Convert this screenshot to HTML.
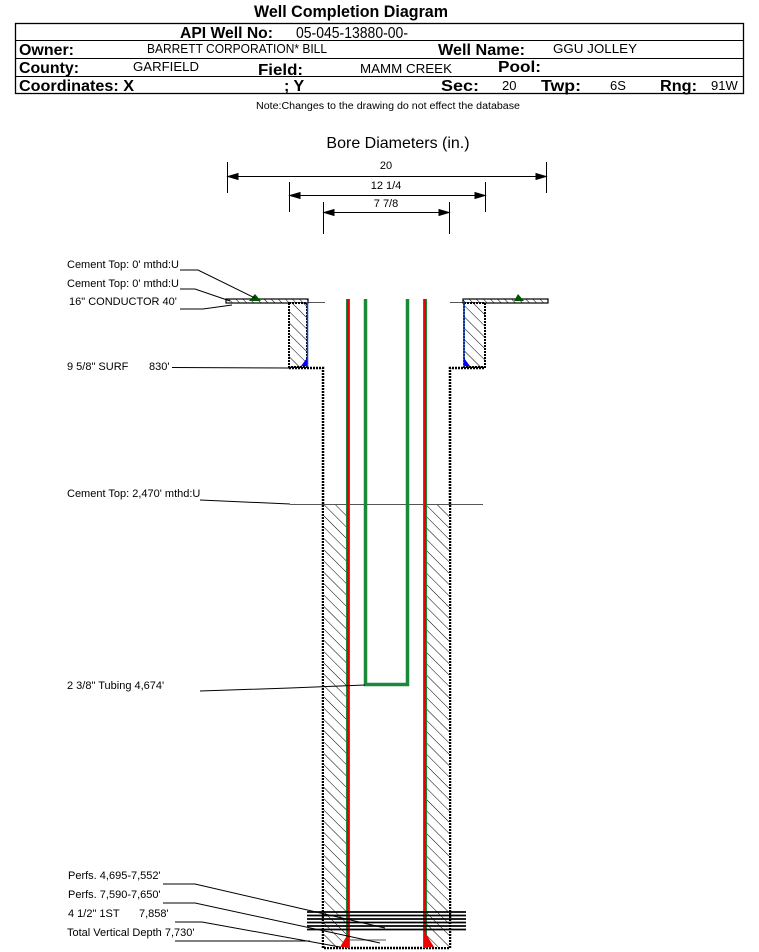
<!DOCTYPE html>
<html><head><meta charset="utf-8"><style>
body{margin:0;background:#fff;}
svg{display:block;font-family:"Liberation Sans",Arial,sans-serif;}
</style></head><body>
<svg width="759" height="952" viewBox="0 0 759 952" xmlns="http://www.w3.org/2000/svg">
<defs>
<pattern id="h" width="8" height="8" patternUnits="userSpaceOnUse" patternTransform="rotate(-45)">
<rect width="8" height="8" fill="#fff"/><line x1="0" y1="0" x2="0" y2="8" stroke="#000" stroke-width="1"/>
</pattern>
<pattern id="hs" width="5" height="5" patternUnits="userSpaceOnUse" patternTransform="rotate(-45)">
<rect width="5" height="5" fill="#fff"/><line x1="0" y1="0" x2="0" y2="5" stroke="#000" stroke-width="1"/>
</pattern>
</defs>
<!-- Header -->
<text x="254" y="17" font-size="17" font-weight="bold" textLength="194" lengthAdjust="spacingAndGlyphs">Well Completion Diagram</text>
<rect x="15.5" y="23.5" width="728" height="70" fill="none" stroke="#000" stroke-width="1.3"/>
<line x1="15" y1="40.5" x2="744" y2="40.5" stroke="#000"/>
<line x1="15" y1="58.5" x2="744" y2="58.5" stroke="#000"/>
<line x1="15" y1="76.5" x2="744" y2="76.5" stroke="#000"/>
<text x="180" y="38" font-size="16" font-weight="bold" textLength="93" lengthAdjust="spacingAndGlyphs">API Well No:</text>
<text x="296" y="38" font-size="16" textLength="112" lengthAdjust="spacingAndGlyphs">05-045-13880-00-</text>
<text x="19" y="55" font-size="16" font-weight="bold" textLength="55" lengthAdjust="spacingAndGlyphs">Owner:</text>
<text x="147" y="53" font-size="13" textLength="180" lengthAdjust="spacingAndGlyphs">BARRETT CORPORATION* BILL</text>
<text x="438" y="55" font-size="16" font-weight="bold" textLength="87" lengthAdjust="spacingAndGlyphs">Well Name:</text>
<text x="553" y="53" font-size="13" textLength="84" lengthAdjust="spacingAndGlyphs">GGU JOLLEY</text>
<text x="19" y="73" font-size="16" font-weight="bold" textLength="60" lengthAdjust="spacingAndGlyphs">County:</text>
<text x="133" y="71" font-size="13" textLength="66" lengthAdjust="spacingAndGlyphs">GARFIELD</text>
<text x="258" y="75" font-size="16" font-weight="bold" textLength="45" lengthAdjust="spacingAndGlyphs">Field:</text>
<text x="360" y="73" font-size="13" textLength="92" lengthAdjust="spacingAndGlyphs">MAMM CREEK</text>
<text x="498" y="72" font-size="16" font-weight="bold" textLength="43" lengthAdjust="spacingAndGlyphs">Pool:</text>
<text x="19" y="91" font-size="16" font-weight="bold" textLength="115" lengthAdjust="spacingAndGlyphs">Coordinates: X</text>
<text x="284" y="91" font-size="16" font-weight="bold">; Y</text>
<text x="441" y="91" font-size="16" font-weight="bold" textLength="38" lengthAdjust="spacingAndGlyphs">Sec:</text>
<text x="502" y="90" font-size="13">20</text>
<text x="541" y="91" font-size="16" font-weight="bold" textLength="40" lengthAdjust="spacingAndGlyphs">Twp:</text>
<text x="610" y="90" font-size="13">6S</text>
<text x="660" y="91" font-size="16" font-weight="bold" textLength="37" lengthAdjust="spacingAndGlyphs">Rng:</text>
<text x="711" y="90" font-size="13">91W</text>
<text x="256" y="109" font-size="10" textLength="264" lengthAdjust="spacingAndGlyphs">Note:Changes to the drawing do not effect the database</text>

<!-- Bore diameters -->
<text x="398" y="148" font-size="16" text-anchor="middle">Bore Diameters (in.)</text>
<g stroke="#000" stroke-width="1" fill="#000">
<line x1="227.5" y1="162" x2="227.5" y2="193"/><line x1="546.5" y1="162" x2="546.5" y2="193"/>
<line x1="228" y1="176.5" x2="546" y2="176.5"/>
<polygon points="228,176.5 238,173.5 238,179.5"/><polygon points="546,176.5 536,173.5 536,179.5"/>
<line x1="289.5" y1="182" x2="289.5" y2="212"/><line x1="485.5" y1="182" x2="485.5" y2="212"/>
<line x1="290" y1="195.5" x2="485" y2="195.5"/>
<polygon points="290,195.5 300,192.5 300,198.5"/><polygon points="485,195.5 475,192.5 475,198.5"/>
<line x1="323.5" y1="202" x2="323.5" y2="234"/><line x1="449.5" y1="202" x2="449.5" y2="234"/>
<line x1="324" y1="212.5" x2="449" y2="212.5"/>
<polygon points="324,212.5 334,209.5 334,215.5"/><polygon points="449,212.5 439,209.5 439,215.5"/>
</g>
<text x="386" y="169" font-size="11" text-anchor="middle">20</text>
<text x="386" y="189" font-size="11" text-anchor="middle">12 1/4</text>
<text x="386" y="207" font-size="11" text-anchor="middle">7 7/8</text>

<!-- surface lines -->
<line x1="226" y1="302.5" x2="325" y2="302.5" stroke="#555"/>
<line x1="450" y1="302.5" x2="548" y2="302.5" stroke="#555"/>

<!-- conductor flanges -->
<rect x="226" y="299" width="82" height="4" fill="url(#hs)" stroke="#000" stroke-width="1.2"/>
<rect x="463" y="299" width="85" height="4" fill="url(#hs)" stroke="#000" stroke-width="1.2"/>
<polygon points="249,301 255,294 261,301" fill="#050"/>
<polygon points="514,301 518,294 524,301" fill="#050"/>

<!-- conductor cement -->
<rect x="289" y="303" width="18" height="64" fill="url(#h)" stroke="#000" stroke-width="2" stroke-dasharray="2,1"/>
<rect x="464" y="303" width="21" height="64" fill="url(#h)" stroke="#000" stroke-width="2" stroke-dasharray="2,1"/>
<line x1="307.5" y1="302" x2="307.5" y2="367" stroke="#1040c0" stroke-width="1.5"/>
<line x1="464" y1="302" x2="464" y2="367" stroke="#1040c0" stroke-width="1.5"/>
<polygon points="301,366 307,358 307,366" fill="#00f"/>
<polygon points="464,358 470,366 464,366" fill="#00f"/>

<!-- surface casing hole walls -->
<path d="M289,368 H323 V948 H450 V368 H485" fill="none" stroke="#000" stroke-width="2.5" stroke-dasharray="2,1"/>

<!-- lower cement -->
<rect x="324" y="504" width="23" height="443" fill="url(#h)"/>
<rect x="426" y="504" width="23" height="443" fill="url(#h)"/>
<line x1="200" y1="500" x2="290" y2="504" stroke="#000"/>
<line x1="290" y1="504.5" x2="483" y2="504.5" stroke="#555"/>

<!-- production casing -->
<rect x="346" y="299" width="4" height="649" fill="#1a8a3a"/>
<rect x="347" y="299" width="2" height="649" fill="#e00"/>
<rect x="423" y="299" width="4" height="649" fill="#1a8a3a"/>
<rect x="424" y="299" width="2" height="649" fill="#e00"/>
<polygon points="340,947 348,934 349,947" fill="#e00"/>
<polygon points="426,934 434,947 426,947" fill="#e00"/>

<!-- tubing -->
<path d="M365.5,299 V684.5 H407.5 V299" fill="none" stroke="#1a8a3a" stroke-width="3.5"/>

<!-- perfs -->
<g stroke="#000" stroke-width="1.8">
<line x1="307" y1="912" x2="466" y2="912"/>
<line x1="307" y1="915.5" x2="466" y2="915.5"/>
<line x1="307" y1="919" x2="466" y2="919"/>
<line x1="307" y1="922.5" x2="466" y2="922.5"/>
<line x1="307" y1="926" x2="466" y2="926"/>
<line x1="307" y1="929.5" x2="466" y2="929.5"/>
</g>
<line x1="350" y1="940" x2="386" y2="940" stroke="#777" stroke-width="1.2"/>

<!-- labels -->
<g font-size="11">
<text x="67" y="268">Cement Top: 0' mthd:U</text>
<text x="67" y="287">Cement Top: 0' mthd:U</text>
<text x="69" y="305">16" CONDUCTOR  40'</text>
<text x="67" y="370">9 5/8" SURF</text><text x="149" y="370">830'</text>
<text x="67" y="497">Cement Top: 2,470' mthd:U</text>
<text x="67" y="689">2 3/8" Tubing 4,674'</text>
<text x="68" y="879">Perfs. 4,695-7,552'</text>
<text x="68" y="898">Perfs. 7,590-7,650'</text>
<text x="68" y="917">4 1/2" 1ST</text><text x="139" y="917">7,858'</text>
<text x="67" y="936">Total Vertical Depth 7,730'</text>
</g>
<g stroke="#000" stroke-width="1" fill="none">
<polyline points="180,270 198,270 255,298"/>
<polyline points="180,289 195,289 230,301"/>
<polyline points="180,309 203,309 232,305"/>
<line x1="172" y1="367.5" x2="289" y2="368"/>
<polyline points="200,691 290,688 365,685"/>
<polyline points="163,884 195,884 385,928"/>
<polyline points="163,903 195,903 380,943"/>
<polyline points="175,922 202,922 340,947"/>
<polyline points="175,941 240,941 310,941"/>
</g>
</svg>
</body></html>
